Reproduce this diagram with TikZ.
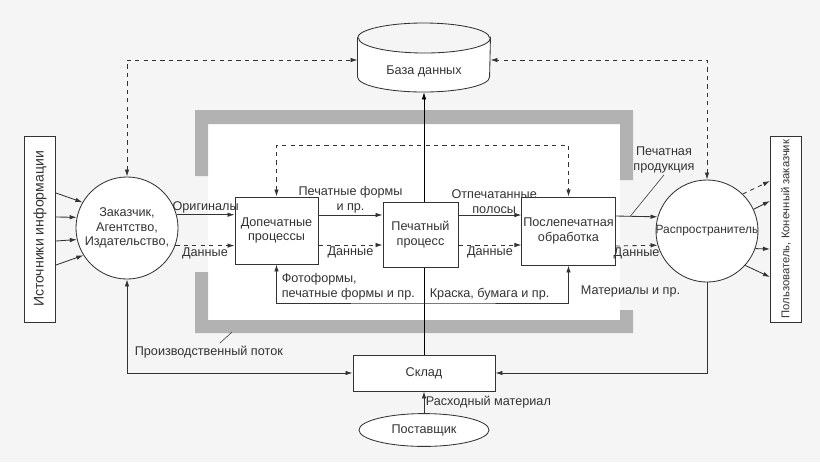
\documentclass[tikz,border=0pt]{standalone}
\usepackage{graphicx}
\usepackage{fontspec}
\setmainfont{Liberation Sans}
\usetikzlibrary{shapes.geometric,arrows.meta,positioning,calc,backgrounds}

\begin{document}
\begin{tikzpicture}[
  x=0.025cm, y=-0.025cm,
  color=black!80, line width=0.6pt,
  font=\fontsize{9}{10.5}\selectfont,
  box/.style={rectangle, draw, fill=white, align=center, inner sep=1pt},
  sidebox/.style={rectangle, draw, fill=white, minimum width=0.78cm,
                  minimum height=4.65cm, inner sep=0pt},
  party/.style={circle, draw, fill=white, minimum size=2.55cm, align=center,
                inner sep=0pt},
  dbnode/.style={rectangle, minimum width=3.3cm, minimum height=1.6cm, inner sep=0pt},
  lbl/.style={align=center, inner sep=1pt},
  arr/.style={-{Latex[length=5pt,width=3.2pt]}},
  twoarr/.style={{Latex[length=5pt,width=3.2pt]}-{Latex[length=5pt,width=3.2pt]}},
  framefill/.style={fill=black!30},
]
  % ===== Outer parties =====
  \node[sidebox] (src) at (40,229)
       {\rotatebox{90}{\fontsize{10}{12}\selectfont Источники информации}};
  \node[sidebox] (users) at (786,229)
       {\rotatebox{90}{\fontsize{8}{10}\selectfont Пользователь, Конечный заказчик}};
  \node[party] (cust) at (127,228) {Заказчик,\\Агентство,\\Издательство,};
  \node[party] (distr) at (707,231)
       {\makebox[0pt]{\fontsize{8.5}{10}\selectfont Распространитель}};

  % ===== Database, store, supplier =====
  \node[dbnode] (db) at (424,60) {};
  \draw[fill=white] (db.west |- 0,38) -- (db.west |- 0,77)
       arc[start angle=180, end angle=0, x radius=66, y radius=15]
       -- (db.east |- 0,38)
       arc[start angle=0, end angle=180, x radius=66, y radius=15] -- cycle;
  \draw (db.west |- 0,38) arc[start angle=180, end angle=360, x radius=66, y radius=15];
  \node[lbl] (dblbl) at (424,71) {База данных};
  \node[box, minimum width=3.55cm, minimum height=0.9cm] (store) at (424,373) {Склад};
  \node[ellipse, draw, fill=white, minimum width=3.25cm, minimum height=0.82cm]
       (supplier) at (424,430) {Поставщик};

  % ===== Production chain =====
  \node[box, minimum width=2.075cm, minimum height=1.675cm] (prepress) at (276.5,230.5)
       {Допечатные\\процессы};
  \node[box, minimum width=1.875cm, minimum height=1.625cm] (press) at (420.5,234.5)
       {Печатный\\процесс};
  \node[box, minimum width=2.325cm, minimum height=1.7cm] (post) at (568.5,231)
       {Послепечатная\\обработка};

  % ===== Background and production flow frame =====
  \begin{scope}[on background layer]
    \fill[black!4] (0,0) rectangle (820,462);
    \fill[white] (208,124) rectangle (620,320);
    \fill[framefill] (195,110) -- (633,110) -- (633,180) -- (620,180) -- (620,124)
         -- (208,124) -- (208,176) -- (195,176) -- cycle;
    \fill[framefill] (195,272) -- (208,272) -- (208,320) -- (620,320) -- (620,310)
         -- (633,310) -- (633,333) -- (195,333) -- cycle;
    % store -> database, passes behind the press
    \draw[arr] (store.north) -- (db.south);
  \end{scope}

  % ===== Sources and end users =====
  \foreach \dy/\a in {-36/150, -12/168, 12/193, 36/212}
    \draw[arr] ($(src.east)+(0,\dy)$) -- (cust.\a);
  \foreach \a/\dy/\ls in {46/-48/dashed, 25/-28/solid, -20/20/solid, -42/48/solid}
    \draw[arr, \ls] (distr.\a) -- ($(users.west)+(0,\dy)$);

  % ===== Edges along the chain =====
  \draw[arr] (cust.15) -- (cust.15 -| prepress.west)
        node[midway, above, lbl] {Оригиналы};
  \draw[arr, dashed] (cust.-20) -- (cust.-20 -| prepress.west)
        node[midway, below, lbl] {Данные};
  \draw[arr] (prepress.east |- 0,215) -- (press.west |- 0,215)
        node[midway, above, lbl] {Печатные формы\\и пр.};
  \draw[arr, dashed] (prepress.east |- 0,245) -- (press.west |- 0,245)
        node[midway, below, lbl] {Данные};
  \draw[arr] (press.east |- 0,215) -- (post.west |- 0,215)
        node[midway, above, lbl, xshift=3pt] {Отпечатанные\\полосы};
  \draw[arr, dashed] (press.east |- 0,245) -- (post.west |- 0,245)
        node[midway, below, lbl] {Данные};
  \draw[arr] (post.east |- 0,216) -- (distr.164) coordinate[pos=0.35] (prodpt);
  \draw[arr, dashed] (post.east |- 0,246) -- (distr.196)
        node[midway, below, lbl] {Данные};
  \node[lbl] (prodlbl) at (664,160) {Печатная\\продукция};
  \draw[line width=0.4pt] (prodlbl.south) -- (prodpt);

  % ===== Data loop (top) and materials loop (bottom) =====
  \draw[twoarr, dashed] (prepress.north) |- (424,145) -| (post.north);
  \draw[twoarr] (prepress.south) |- (424,303) -| (post.south);
  \node[lbl, anchor=south west, align=left] (photolbl) at (280,302)
       {Фотоформы,\\печатные формы и пр.};
  \node[lbl, anchor=south west] (inklbl) at (428,302) {Краска, бумага и пр.};
  \node[lbl, anchor=west] (matlbl) at (579,291) {Материалы и пр.};

  % ===== Outer loops =====
  \draw[twoarr, dashed] (cust.north) |- (db.west);
  \draw[twoarr, dashed] (distr.north) |- (db.east);
  \draw[twoarr] (cust.south) |- (store.west);
  \draw[arr] (distr.south) |- (store.east);
  \draw[arr] (supplier.north) -- (store.south)
        node[midway, right, lbl] {Расходный материал};

  \node[lbl, anchor=west] (flowlbl) at (133,352) {Производственный поток};
  \draw[line width=0.4pt] (flowlbl.north) ++(11,-1) -- ++(12,-11);

\end{tikzpicture}
\end{document}
